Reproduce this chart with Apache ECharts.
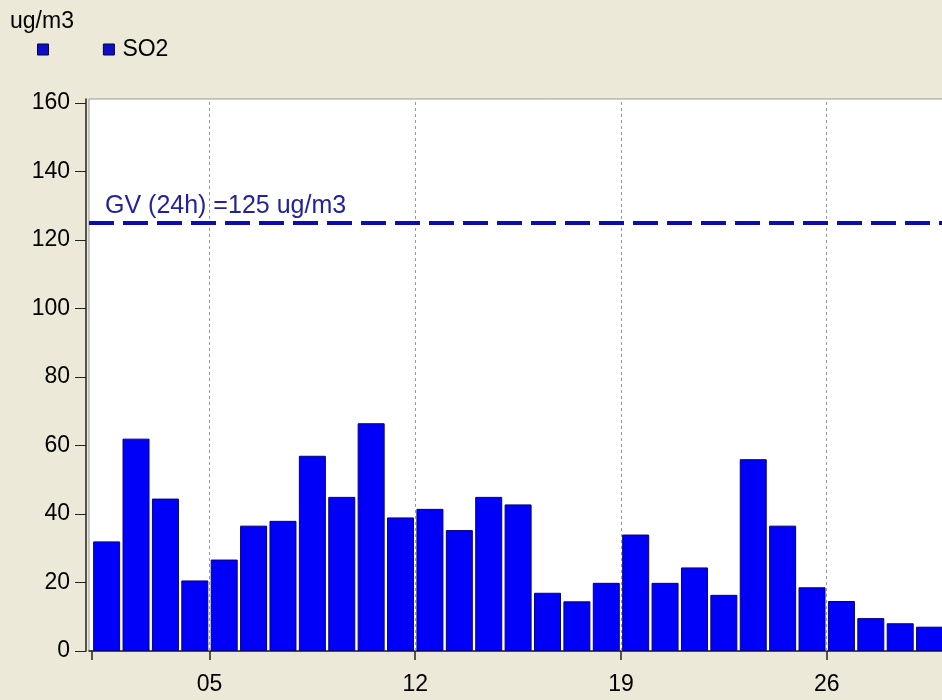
<!DOCTYPE html>
<html>
<head>
<meta charset="utf-8">
<script src="https://cdn.jsdelivr.net/npm/echarts@6.0.0/dist/echarts.min.js"></script>
<style>
  html, body { margin: 0; padding: 0; overflow: hidden; background: #ECE9D8; }
  #main { width: 1020px; height: 700px; }
</style>
</head>
<body>
<div id="main"></div>
<script>
// daily SO2 means (ug/m3), day of month
const days = [1, 2, 3, 4, 5, 6, 7, 8, 9, 10, 11, 12, 13, 14, 15, 16, 17, 18, 19, 20, 21, 22, 23, 24, 25, 26, 27, 28, 29]
const so2 = [32, 62, 44.5, 20.6, 26.7, 36.6, 38, 57, 45, 66.5, 39, 41.5, 35.3, 45, 42.8, 17, 14.5, 19.9, 34, 19.9, 24.4, 16.4, 56, 36.6, 18.6, 14.6, 9.6, 8.1, 7.1]
const tickDays = [1, 5, 12, 19, 26]
const labelDays = [5, 12, 19, 26]
const yTicks = [0, 20, 40, 60, 80, 100, 120, 140, 160]
const guideValue = 125
const guideLabel = 'GV (24h) =125 ug/m3'

const font = 'Liberation Sans'
const chart = echarts.init(document.getElementById('main'))

chart.setOption({
  backgroundColor: '#ECE9D8',
  animation: false,
  title: {
    text: 'ug/m3',
    left: 5,
    top: 5,
    textStyle: { fontFamily: font, fontSize: 23, fontWeight: 'normal', color: '#000' }
  },
  legend: {
    left: 32,
    top: 33,
    itemWidth: 11,
    itemHeight: 11,
    itemGap: 40,
    data: [{ name: ' ', icon: 'rect' }, { name: 'SO2', icon: 'rect' }],
    itemStyle: { color: '#0e0ec8', borderColor: '#000040', borderWidth: 1 },
    textStyle: { fontFamily: font, fontSize: 23, color: '#000', padding: [0, 0, 0, 3] }
  },
  grid: {
    left: 89,
    top: 99,
    right: 14,
    bottom: 49,
    show: true,
    backgroundColor: '#fff',
    borderColor: '#9a9a9a',
    borderWidth: 1
  },
  xAxis: {
    type: 'value',
    min: 0.9,
    max: 32.1,
    offset: 3,
    axisLine: { show: true, lineStyle: { color: '#222', width: 1.5 } },
    axisTick: { show: true, length: 9, customValues: tickDays, lineStyle: { color: '#222', width: 1.5 } },
    axisLabel: {
      customValues: labelDays,
      margin: 19,
      fontFamily: font,
      fontSize: 23,
      color: '#000',
      formatter: v => String(v).padStart(2, '0')
    },
    splitLine: { show: false }
  },
  yAxis: {
    type: 'value',
    min: 0,
    max: 161.17,
    offset: 3,
    axisLine: { show: true, lineStyle: { color: '#222', width: 1.5 } },
    axisTick: { show: true, length: 11, customValues: yTicks, lineStyle: { color: '#222', width: 1 } },
    axisLabel: { customValues: yTicks, margin: 16, fontFamily: font, fontSize: 23, color: '#000' },
    splitLine: { show: false }
  },
  series: [
    {
      // week separators
      name: 'grid',
      type: 'line',
      data: [],
      z: 1,
      silent: true,
      markLine: {
        symbol: 'none',
        silent: true,
        label: { show: false },
        lineStyle: { color: '#999', type: [3, 3], width: 1 },
        data: labelDays.map(d => ({ xAxis: d }))
      }
    },
    {
      name: 'SO2',
      type: 'bar',
      z: 2,
      barWidth: 27,
      itemStyle: { color: '#0000fa', borderColor: '#000080', borderWidth: 1 },
      data: days.map((d, i) => [d + 0.5, so2[i]])
    },
    {
      name: ' ',
      type: 'line',
      data: [],
      z: 3,
      color: '#0e0ec8',
      markLine: {
        symbol: 'none',
        silent: true,
        lineStyle: { color: '#0c0cb0', type: [25, 9], width: 4 },
        label: {
          show: true,
          position: 'insideStartTop',
          distance: [16, 4],
          formatter: guideLabel,
          fontFamily: font,
          fontSize: 25,
          color: '#2222a0'
        },
        data: [{ yAxis: guideValue }]
      }
    }
  ]
})

window.onresize = function () {
  chart.resize()
}
</script>
</body>
</html>
